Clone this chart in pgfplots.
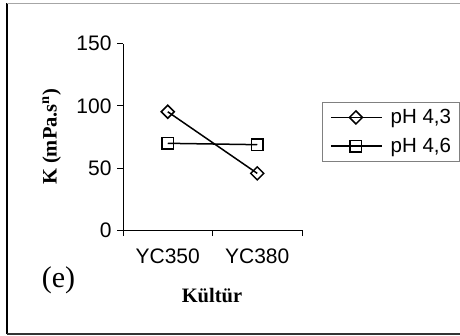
\documentclass[border=0pt]{standalone}
\usepackage{fontspec}
\setmainfont{Liberation Serif}
\newfontfamily\arial{Liberation Sans}
\usepackage{pgfplots}
\pgfplotsset{compat=1.18}
\begin{document}
\begin{tikzpicture}[x=1pt,y=1pt]
\path[use as bounding box] (0,0) rectangle (460,335);
\fill[white] (0,0) rectangle (460,335);
\draw[black,line width=1.2pt] (7,1) -- (7,331.5);
\draw[gray!70,line width=1.2pt] (7,331.5) -- (460,331.5);
\draw[black!80,line width=1.2pt] (7,1) -- (460,1);
\begin{axis}[
  scale only axis,
  width=179pt, height=186.3pt,
  at={(123pt,105pt)}, anchor=south west,
  xmin=0, xmax=2, ymin=0, ymax=150,
  axis x line=bottom, axis y line=left,
  axis line style={-, line width=0.8pt},
  tick style={line width=0.8pt, black},
  tick align=outside,
  major tick length=6pt,
  xtick={0,1,2}, xticklabels={},
  extra x ticks={0.5,1.5},
  extra x tick labels={YC350,YC380},
  extra x tick style={major tick length=0pt, xticklabel style={yshift=-15pt}},
  ytick={0,50,100,150},
  yticklabels={0,50,100,150},
  ticklabel style={font=\arial\fontsize{21}{24}\selectfont, text=black},
  yticklabel style={xshift=-2pt},
  xlabel={\textbf{Kültür}},
  xlabel style={at={(axis description cs:0.497,-0.354)}, anchor=center, font=\fontsize{20.5}{24}\selectfont},
  ylabel={\textbf{K (mPa.s\textsuperscript{n})}},
  ylabel style={at={(axis description cs:-0.398,0.5)}, anchor=center, font=\fontsize{20.5}{24}\selectfont},
  clip=false,
  legend style={at={(axis description cs:1.110,0.687)}, anchor=north west,
    draw=gray, line width=1pt, font=\arial\fontsize{20.5}{24}\selectfont,
    inner xsep=8pt, inner ysep=7pt, row sep=13pt, column sep=8pt,
    nodes={inner sep=0pt}, cells={anchor=west}},
  legend image code/.code={\draw[mark repeat=2,mark phase=2,#1] plot coordinates {(0pt,0pt) (25pt,0pt) (51pt,0pt)};},
]
\addplot[black, line width=1.5pt, mark=square, mark size=4.6pt, mark options={rotate=45, fill=white, line width=1.5pt}] coordinates {(0.5,95.2) (1.5,45.6)};
\addlegendentry{pH 4,3}
\addplot[black, line width=1.5pt, mark=square, mark size=5.8pt, mark options={fill=white, line width=1.5pt}] coordinates {(0.5,69.8) (1.5,68.7)};
\addlegendentry{pH 4,6}
\node[font=\fontsize{30}{32}\selectfont] at (axis description cs:-0.36,-0.268) {(e)};
\end{axis}
\end{tikzpicture}
\end{document}
